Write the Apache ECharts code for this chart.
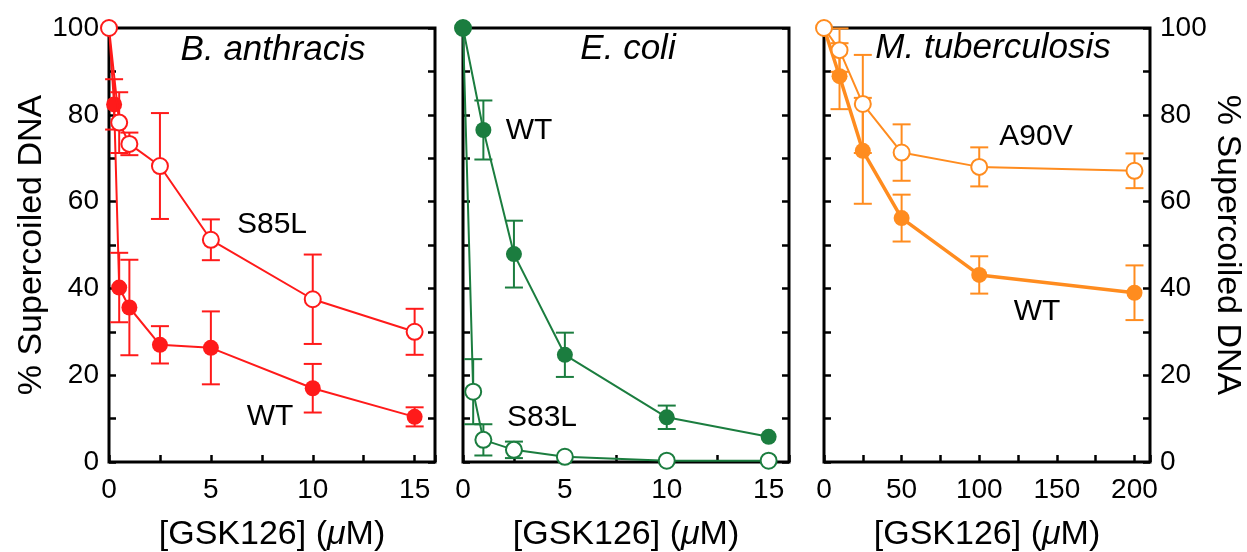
<!DOCTYPE html>
<html>
<head>
<meta charset="utf-8">
<script src="https://cdn.jsdelivr.net/npm/echarts@6/dist/echarts.min.js"></script>
<style>
  html, body { margin: 0; padding: 0; background: #fff; }
  #chart { width: 1247px; height: 552px; }
</style>
</head>
<body>
<div id="chart"></div>
<script>
// B. anthracis
var baWTx = [0, 0.25, 0.5, 1, 2.5, 5, 10, 15];
var baWT = [100, 82.4, 40.2, 35.6, 27.0, 26.3, 17.0, 10.4];
var baWTerr = [0, 5.8, 8.0, 11.0, 4.3, 8.4, 5.6, 2.2];
var baMutx = [0, 0.5, 1, 2.5, 5, 10, 15];
var baS85L = [100, 78.2, 73.3, 68.2, 51.2, 37.5, 30.0];
var baS85Lerr = [0, 7.0, 2.6, 12.2, 4.7, 10.3, 5.3];

// E. coli
var ecWTx = [0, 1, 2.5, 5, 10, 15];
var ecWT = [100, 76.5, 47.9, 24.7, 10.3, 5.8];
var ecWTerr = [0, 6.8, 7.7, 5.1, 2.7, 0];
var ecMutx = [0, 0.5, 1, 2.5, 5, 10, 15];
var ecS83L = [100, 16.2, 5.1, 2.8, 1.2, 0.3, 0.3];
var ecS83Lerr = [0, 7.5, 3.6, 1.9, 0, 0, 0];

// M. tuberculosis
var mtx = [0, 10, 25, 50, 100, 200];
var mtWT = [100, 88.9, 71.7, 56.2, 43.1, 39.0];
var mtWTerr = [0, 7.6, 12.2, 5.4, 4.3, 6.3];
var mtA90V = [100, 94.9, 82.5, 71.3, 68.0, 67.1];
var mtA90Verr = [0, 5.0, 11.3, 6.5, 4.5, 4.0];

var RED = '#ff1a1a', GREEN = '#1b7d3f', ORANGE = '#ff8c1f';
var FONT = 'Liberation Sans';

var chart = echarts.init(document.getElementById('chart'));

function pairs(xs, ys) {
  return xs.map(function (x, i) { return [x, ys[i]]; });
}

function lineSeries(xs, ys, color, open, idx, width, z) {
  return {
    type: 'line',
    xAxisIndex: idx,
    yAxisIndex: idx * 2,
    data: pairs(xs, ys),
    symbol: 'circle',
    symbolSize: 16,
    clip: false,
    z: z,
    lineStyle: { color: color, width: width },
    itemStyle: open
      ? { color: '#fff', borderColor: color, borderWidth: 2 }
      : { color: color, borderColor: color, borderWidth: 0 },
    emphasis: { disabled: true }
  };
}

function errSeries(xs, ys, es, color, idx, z) {
  var d = [];
  xs.forEach(function (x, i) {
    if (es[i] > 0) d.push([x, ys[i] - es[i], ys[i] + es[i]]);
  });
  return {
    type: 'custom',
    xAxisIndex: idx,
    yAxisIndex: idx * 2,
    z: z,
    data: d,
    encode: { x: 0, y: [1, 2] },
    renderItem: function (params, api) {
      var lo = api.coord([api.value(0), api.value(1)]);
      var hi = api.coord([api.value(0), api.value(2)]);
      var w = 9;
      var st = { stroke: color, lineWidth: 2 };
      return {
        type: 'group',
        children: [
          { type: 'line', shape: { x1: lo[0], y1: lo[1], x2: hi[0], y2: hi[1] }, style: st },
          { type: 'line', shape: { x1: lo[0] - w, y1: lo[1], x2: lo[0] + w, y2: lo[1] }, style: st },
          { type: 'line', shape: { x1: hi[0] - w, y1: hi[1], x2: hi[0] + w, y2: hi[1] }, style: st }
        ]
      };
    }
  };
}

var lefts = [109, 463, 824];
var grids = lefts.map(function (l) {
  return {
    left: l, top: 28, width: 326, height: 434, show: true,
    borderColor: '#000', borderWidth: 3,
    containLabel: false, outerBoundsMode: 'none'
  };
});

var tick = { inside: true, length: 7, lineStyle: { color: '#000', width: 2.5 } };
var xName = '[GSK126] ({i|\u03bc}M)';

function xAxis(idx, max, step, labStep) {
  return {
    type: 'value', gridIndex: idx, min: 0, max: max, interval: step,
    axisLine: { show: false },
    axisTick: tick,
    splitLine: { show: false },
    axisLabel: {
      fontSize: 28, color: '#000', fontFamily: FONT, margin: 14,
      formatter: function (v) { return v % labStep === 0 ? String(v) : ''; }
    },
    name: xName, nameLocation: 'middle', nameGap: 56,
    nameTextStyle: {
      fontSize: 34, color: '#000', fontFamily: FONT,
      rich: { i: { fontSize: 34, fontStyle: 'italic', color: '#000', fontFamily: FONT } }
    }
  };
}

function yAxis(idx, pos, labels, name) {
  var a = {
    type: 'value', gridIndex: idx, position: pos, min: 0, max: 100, interval: 10,
    axisLine: { show: false },
    axisTick: tick,
    splitLine: { show: false },
    axisLabel: {
      show: labels, fontSize: 28, color: '#000', fontFamily: FONT, margin: 10,
      formatter: function (v) { return v % 20 === 0 ? String(v) : ''; }
    }
  };
  if (name) {
    a.name = '% Supercoiled DNA';
    a.nameLocation = 'middle';
    a.nameGap = pos === 'left' ? 53 : 50;
    if (pos === 'right') a.nameRotate = -90;
    a.nameTextStyle = { fontSize: 34, color: '#000', fontFamily: FONT };
  }
  return a;
}

function txt(x, y, s, italic, size) {
  return {
    type: 'text', x: x, y: y, z: 100,
    style: {
      text: s, fill: '#000', font: (italic ? 'italic ' : '') + size + 'px "' + FONT + '"',
      textAlign: 'center', textVerticalAlign: 'middle'
    }
  };
}

var option = {
  animation: false,
  backgroundColor: '#fff',
  grid: grids,
  xAxis: [xAxis(0, 16, 2.5, 5), xAxis(1, 16, 2.5, 5), xAxis(2, 210, 25, 50)],
  yAxis: [
    yAxis(0, 'left', true, true), yAxis(0, 'right', false, false),
    yAxis(1, 'left', false, false), yAxis(1, 'right', false, false),
    yAxis(2, 'left', false, false), yAxis(2, 'right', true, true)
  ],
  series: [
    errSeries(baWTx, baWT, baWTerr, RED, 0, 2),
    errSeries(baMutx, baS85L, baS85Lerr, RED, 0, 2),
    lineSeries(baWTx, baWT, RED, false, 0, 2, 3),
    lineSeries(baMutx, baS85L, RED, true, 0, 2, 4),

    errSeries(ecWTx, ecWT, ecWTerr, GREEN, 1, 2),
    errSeries(ecMutx, ecS83L, ecS83Lerr, GREEN, 1, 2),
    lineSeries(ecMutx, ecS83L, GREEN, true, 1, 2, 3),
    lineSeries(ecWTx, ecWT, GREEN, false, 1, 2, 4),

    errSeries(mtx, mtWT, mtWTerr, ORANGE, 2, 2),
    errSeries(mtx, mtA90V, mtA90Verr, ORANGE, 2, 2),
    lineSeries(mtx, mtWT, ORANGE, false, 2, 3.5, 3),
    lineSeries(mtx, mtA90V, ORANGE, true, 2, 2, 4)
  ],
  graphic: [
    txt(273, 50, 'B. anthracis', true, 35),
    txt(628, 49, 'E. coli', true, 35),
    txt(993, 48, 'M. tuberculosis', true, 35),
    txt(272, 225, 'S85L', false, 30),
    txt(270, 417, 'WT', false, 30),
    txt(529, 131, 'WT', false, 30),
    txt(542, 418, 'S83L', false, 30),
    txt(1036, 137, 'A90V', false, 30),
    txt(1037, 312, 'WT', false, 30)
  ]
};

chart.setOption(option);
</script>
</body>
</html>
